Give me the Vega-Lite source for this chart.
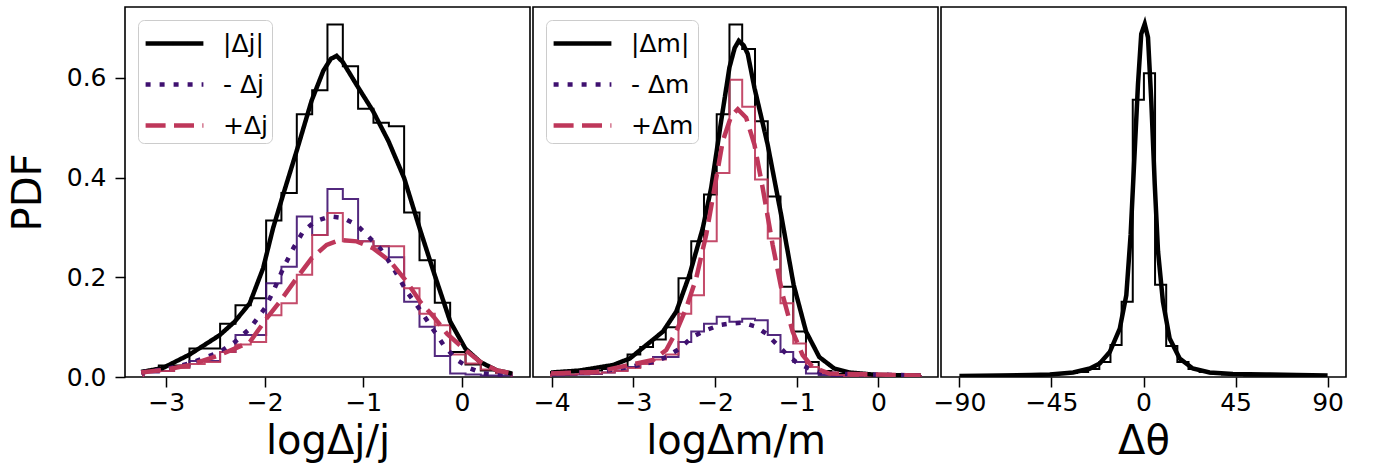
{
  "$schema": "https://vega.github.io/schema/vega-lite/v6.json",
  "background": "white",
  "padding": {"left": 7, "top": 6, "right": 5, "bottom": 5},
  "spacing": 3,
  "bounds": "flush",
  "datasets": {
    "h1": [
      {"s":"a","i":0,"x":-3.231,"y":0},{"s":"a","i":1,"x":-3.231,"y":0.013},{"s":"a","i":2,"x":-3.075,"y":0.023},{"s":"a","i":3,"x":-2.920,"y":0.023},{"s":"a","i":4,"x":-2.764,"y":0.057},{"s":"a","i":5,"x":-2.609,"y":0.057},{"s":"a","i":6,"x":-2.453,"y":0.107},{"s":"a","i":7,"x":-2.297,"y":0.144},{"s":"a","i":8,"x":-2.142,"y":0.158},{"s":"a","i":9,"x":-1.986,"y":0.314},{"s":"a","i":10,"x":-1.831,"y":0.369},{"s":"a","i":11,"x":-1.675,"y":0.527},{"s":"a","i":12,"x":-1.519,"y":0.575},{"s":"a","i":13,"x":-1.364,"y":0.707},{"s":"a","i":14,"x":-1.208,"y":0.623},{"s":"a","i":15,"x":-1.053,"y":0.538},{"s":"a","i":16,"x":-0.897,"y":0.510},{"s":"a","i":17,"x":-0.741,"y":0.503},{"s":"a","i":18,"x":-0.586,"y":0.330},{"s":"a","i":19,"x":-0.430,"y":0.234},{"s":"a","i":20,"x":-0.275,"y":0.149},{"s":"a","i":21,"x":-0.119,"y":0.050},{"s":"a","i":22,"x":0.037,"y":0.025},{"s":"a","i":23,"x":0.192,"y":0.013},{"s":"a","i":24,"x":0.348,"y":0.008},{"s":"a","i":25,"x":0.504,"y":0},
      {"s":"n","i":0,"x":-3.231,"y":0},{"s":"n","i":1,"x":-3.231,"y":0.009},{"s":"n","i":2,"x":-3.075,"y":0.012},{"s":"n","i":3,"x":-2.920,"y":0.020},{"s":"n","i":4,"x":-2.764,"y":0.032},{"s":"n","i":5,"x":-2.609,"y":0.032},{"s":"n","i":6,"x":-2.453,"y":0.050},{"s":"n","i":7,"x":-2.297,"y":0.084},{"s":"n","i":8,"x":-2.142,"y":0.084},{"s":"n","i":9,"x":-1.986,"y":0.188},{"s":"n","i":10,"x":-1.831,"y":0.221},{"s":"n","i":11,"x":-1.675,"y":0.322},{"s":"n","i":12,"x":-1.519,"y":0.285},{"s":"n","i":13,"x":-1.364,"y":0.377},{"s":"n","i":14,"x":-1.208,"y":0.357},{"s":"n","i":15,"x":-1.053,"y":0.272},{"s":"n","i":16,"x":-0.897,"y":0.262},{"s":"n","i":17,"x":-0.741,"y":0.240},{"s":"n","i":18,"x":-0.586,"y":0.151},{"s":"n","i":19,"x":-0.430,"y":0.101},{"s":"n","i":20,"x":-0.275,"y":0.042},{"s":"n","i":21,"x":-0.119,"y":0.007},{"s":"n","i":22,"x":0.037,"y":0.005},{"s":"n","i":23,"x":0.192,"y":0.003},{"s":"n","i":24,"x":0.348,"y":0.003},{"s":"n","i":25,"x":0.504,"y":0},
      {"s":"p","i":0,"x":-3.231,"y":0},{"s":"p","i":1,"x":-3.231,"y":0.010},{"s":"p","i":2,"x":-3.075,"y":0.012},{"s":"p","i":3,"x":-2.920,"y":0.018},{"s":"p","i":4,"x":-2.764,"y":0.026},{"s":"p","i":5,"x":-2.609,"y":0.030},{"s":"p","i":6,"x":-2.453,"y":0.050},{"s":"p","i":7,"x":-2.297,"y":0.065},{"s":"p","i":8,"x":-2.142,"y":0.070},{"s":"p","i":9,"x":-1.986,"y":0.124},{"s":"p","i":10,"x":-1.831,"y":0.148},{"s":"p","i":11,"x":-1.675,"y":0.205},{"s":"p","i":12,"x":-1.519,"y":0.285},{"s":"p","i":13,"x":-1.364,"y":0.329},{"s":"p","i":14,"x":-1.208,"y":0.272},{"s":"p","i":15,"x":-1.053,"y":0.272},{"s":"p","i":16,"x":-0.897,"y":0.262},{"s":"p","i":17,"x":-0.741,"y":0.262},{"s":"p","i":18,"x":-0.586,"y":0.178},{"s":"p","i":19,"x":-0.430,"y":0.127},{"s":"p","i":20,"x":-0.275,"y":0.104},{"s":"p","i":21,"x":-0.119,"y":0.045},{"s":"p","i":22,"x":0.037,"y":0.027},{"s":"p","i":23,"x":0.192,"y":0.015},{"s":"p","i":24,"x":0.348,"y":0.008},{"s":"p","i":25,"x":0.504,"y":0}
    ],
    "k1": [
      {"s":"|Δj|","x":-3.254,"y":0.010},{"s":"|Δj|","x":-3.034,"y":0.018},{"s":"|Δj|","x":-2.763,"y":0.045},{"s":"|Δj|","x":-2.457,"y":0.084},{"s":"|Δj|","x":-2.305,"y":0.111},{"s":"|Δj|","x":-2.152,"y":0.148},{"s":"|Δj|","x":-2.017,"y":0.218},{"s":"|Δj|","x":-1.915,"y":0.299},{"s":"|Δj|","x":-1.813,"y":0.366},{"s":"|Δj|","x":-1.677,"y":0.453},{"s":"|Δj|","x":-1.525,"y":0.554},{"s":"|Δj|","x":-1.406,"y":0.614},{"s":"|Δj|","x":-1.33,"y":0.638},{"s":"|Δj|","x":-1.271,"y":0.644},{"s":"|Δj|","x":-1.21,"y":0.632},{"s":"|Δj|","x":-1.05,"y":0.580},{"s":"|Δj|","x":-0.904,"y":0.534},{"s":"|Δj|","x":-0.745,"y":0.473},{"s":"|Δj|","x":-0.586,"y":0.399},{"s":"|Δj|","x":-0.430,"y":0.299},{"s":"|Δj|","x":-0.277,"y":0.205},{"s":"|Δj|","x":-0.118,"y":0.111},{"s":"|Δj|","x":0.035,"y":0.057},{"s":"|Δj|","x":0.188,"y":0.030},{"s":"|Δj|","x":0.357,"y":0.013},{"s":"|Δj|","x":0.510,"y":0.007},
      {"s":"- Δj","x":-3.254,"y":0.009},{"s":"- Δj","x":-3.0,"y":0.016},{"s":"- Δj","x":-2.763,"y":0.027},{"s":"- Δj","x":-2.457,"y":0.050},{"s":"- Δj","x":-2.305,"y":0.070},{"s":"- Δj","x":-2.152,"y":0.097},{"s":"- Δj","x":-1.999,"y":0.138},{"s":"- Δj","x":-1.915,"y":0.171},{"s":"- Δj","x":-1.813,"y":0.218},{"s":"- Δj","x":-1.711,"y":0.258},{"s":"- Δj","x":-1.610,"y":0.292},{"s":"- Δj","x":-1.491,"y":0.312},{"s":"- Δj","x":-1.338,"y":0.322},{"s":"- Δj","x":-1.203,"y":0.319},{"s":"- Δj","x":-1.067,"y":0.305},{"s":"- Δj","x":-0.965,"y":0.285},{"s":"- Δj","x":-0.830,"y":0.258},{"s":"- Δj","x":-0.694,"y":0.218},{"s":"- Δj","x":-0.559,"y":0.171},{"s":"- Δj","x":-0.457,"y":0.144},{"s":"- Δj","x":-0.321,"y":0.104},{"s":"- Δj","x":-0.185,"y":0.064},{"s":"- Δj","x":-0.050,"y":0.034},{"s":"- Δj","x":0.086,"y":0.017},{"s":"- Δj","x":0.222,"y":0.007},{"s":"- Δj","x":0.510,"y":0.003},
      {"s":"+Δj","x":-3.254,"y":0.009},{"s":"+Δj","x":-3.0,"y":0.015},{"s":"+Δj","x":-2.763,"y":0.024},{"s":"+Δj","x":-2.457,"y":0.044},{"s":"+Δj","x":-2.305,"y":0.057},{"s":"+Δj","x":-2.152,"y":0.070},{"s":"+Δj","x":-1.983,"y":0.117},{"s":"+Δj","x":-1.847,"y":0.151},{"s":"+Δj","x":-1.677,"y":0.198},{"s":"+Δj","x":-1.525,"y":0.238},{"s":"+Δj","x":-1.372,"y":0.265},{"s":"+Δj","x":-1.237,"y":0.275},{"s":"+Δj","x":-1.067,"y":0.272},{"s":"+Δj","x":-0.898,"y":0.258},{"s":"+Δj","x":-0.728,"y":0.232},{"s":"+Δj","x":-0.559,"y":0.191},{"s":"+Δj","x":-0.423,"y":0.151},{"s":"+Δj","x":-0.287,"y":0.121},{"s":"+Δj","x":-0.152,"y":0.087},{"s":"+Δj","x":0.018,"y":0.057},{"s":"+Δj","x":0.188,"y":0.030},{"s":"+Δj","x":0.357,"y":0.013},{"s":"+Δj","x":0.510,"y":0.007}
    ],
    "h2": [
      {"s":"a","i":0,"x":-4.009,"y":0},{"s":"a","i":1,"x":-4.009,"y":0.010},{"s":"a","i":2,"x":-3.853,"y":0.009},{"s":"a","i":3,"x":-3.697,"y":0.011},{"s":"a","i":4,"x":-3.541,"y":0.013},{"s":"a","i":5,"x":-3.385,"y":0.016},{"s":"a","i":6,"x":-3.229,"y":0.020},{"s":"a","i":7,"x":-3.072,"y":0.045},{"s":"a","i":8,"x":-2.916,"y":0.060},{"s":"a","i":9,"x":-2.760,"y":0.075},{"s":"a","i":10,"x":-2.604,"y":0.100},{"s":"a","i":11,"x":-2.448,"y":0.198},{"s":"a","i":12,"x":-2.292,"y":0.272},{"s":"a","i":13,"x":-2.136,"y":0.366},{"s":"a","i":14,"x":-1.980,"y":0.527},{"s":"a","i":15,"x":-1.824,"y":0.707},{"s":"a","i":16,"x":-1.668,"y":0.658},{"s":"a","i":17,"x":-1.511,"y":0.513},{"s":"a","i":18,"x":-1.355,"y":0.362},{"s":"a","i":19,"x":-1.199,"y":0.181},{"s":"a","i":20,"x":-1.043,"y":0.091},{"s":"a","i":21,"x":-0.887,"y":0.030},{"s":"a","i":22,"x":-0.731,"y":0.012},{"s":"a","i":23,"x":-0.575,"y":0.006},{"s":"a","i":24,"x":-0.419,"y":0.004},{"s":"a","i":25,"x":-0.263,"y":0.003},{"s":"a","i":26,"x":-0.107,"y":0.003},{"s":"a","i":27,"x":0.050,"y":0.002},{"s":"a","i":28,"x":0.206,"y":0.002},{"s":"a","i":29,"x":0.362,"y":0.002},{"s":"a","i":30,"x":0.518,"y":0},
      {"s":"n","i":0,"x":-4.009,"y":0},{"s":"n","i":1,"x":-4.009,"y":0.003},{"s":"n","i":2,"x":-3.853,"y":0.004},{"s":"n","i":3,"x":-3.697,"y":0.005},{"s":"n","i":4,"x":-3.541,"y":0.006},{"s":"n","i":5,"x":-3.385,"y":0.009},{"s":"n","i":6,"x":-3.229,"y":0.013},{"s":"n","i":7,"x":-3.072,"y":0.020},{"s":"n","i":8,"x":-2.916,"y":0.030},{"s":"n","i":9,"x":-2.760,"y":0.040},{"s":"n","i":10,"x":-2.604,"y":0.040},{"s":"n","i":11,"x":-2.448,"y":0.070},{"s":"n","i":12,"x":-2.292,"y":0.091},{"s":"n","i":13,"x":-2.136,"y":0.107},{"s":"n","i":14,"x":-1.980,"y":0.121},{"s":"n","i":15,"x":-1.824,"y":0.111},{"s":"n","i":16,"x":-1.668,"y":0.117},{"s":"n","i":17,"x":-1.511,"y":0.114},{"s":"n","i":18,"x":-1.355,"y":0.084},{"s":"n","i":19,"x":-1.199,"y":0.050},{"s":"n","i":20,"x":-1.043,"y":0.030},{"s":"n","i":21,"x":-0.887,"y":0.007},{"s":"n","i":22,"x":-0.731,"y":0.004},{"s":"n","i":23,"x":-0.575,"y":0.002},{"s":"n","i":24,"x":-0.419,"y":0.002},{"s":"n","i":25,"x":-0.263,"y":0.002},{"s":"n","i":26,"x":-0.107,"y":0.002},{"s":"n","i":27,"x":0.050,"y":0.002},{"s":"n","i":28,"x":0.206,"y":0.002},{"s":"n","i":29,"x":0.362,"y":0.002},{"s":"n","i":30,"x":0.518,"y":0},
      {"s":"p","i":0,"x":-4.009,"y":0},{"s":"p","i":1,"x":-4.009,"y":0.005},{"s":"p","i":2,"x":-3.853,"y":0.005},{"s":"p","i":3,"x":-3.697,"y":0.006},{"s":"p","i":4,"x":-3.541,"y":0.007},{"s":"p","i":5,"x":-3.385,"y":0.009},{"s":"p","i":6,"x":-3.229,"y":0.012},{"s":"p","i":7,"x":-3.072,"y":0.018},{"s":"p","i":8,"x":-2.916,"y":0.026},{"s":"p","i":9,"x":-2.760,"y":0.035},{"s":"p","i":10,"x":-2.604,"y":0.045},{"s":"p","i":11,"x":-2.448,"y":0.127},{"s":"p","i":12,"x":-2.292,"y":0.164},{"s":"p","i":13,"x":-2.136,"y":0.272},{"s":"p","i":14,"x":-1.980,"y":0.409},{"s":"p","i":15,"x":-1.824,"y":0.596},{"s":"p","i":16,"x":-1.668,"y":0.542},{"s":"p","i":17,"x":-1.511,"y":0.396},{"s":"p","i":18,"x":-1.355,"y":0.278},{"s":"p","i":19,"x":-1.199,"y":0.148},{"s":"p","i":20,"x":-1.043,"y":0.067},{"s":"p","i":21,"x":-0.887,"y":0.020},{"s":"p","i":22,"x":-0.731,"y":0.008},{"s":"p","i":23,"x":-0.575,"y":0.004},{"s":"p","i":24,"x":-0.419,"y":0.002},{"s":"p","i":25,"x":-0.263,"y":0.002},{"s":"p","i":26,"x":-0.107,"y":0.002},{"s":"p","i":27,"x":0.050,"y":0.002},{"s":"p","i":28,"x":0.206,"y":0.002},{"s":"p","i":29,"x":0.362,"y":0.002},{"s":"p","i":30,"x":0.518,"y":0}
    ],
    "k2": [
      {"s":"|Δm|","x":-4.009,"y":0.009},{"s":"|Δm|","x":-3.658,"y":0.013},{"s":"|Δm|","x":-3.250,"y":0.024},{"s":"|Δm|","x":-3.046,"y":0.037},{"s":"|Δm|","x":-2.842,"y":0.064},{"s":"|Δm|","x":-2.639,"y":0.091},{"s":"|Δm|","x":-2.476,"y":0.131},{"s":"|Δm|","x":-2.313,"y":0.205},{"s":"|Δm|","x":-2.150,"y":0.299},{"s":"|Δm|","x":-2.048,"y":0.379},{"s":"|Δm|","x":-1.926,"y":0.513},{"s":"|Δm|","x":-1.824,"y":0.621},{"s":"|Δm|","x":-1.76,"y":0.660},{"s":"|Δm|","x":-1.710,"y":0.674},{"s":"|Δm|","x":-1.65,"y":0.665},{"s":"|Δm|","x":-1.600,"y":0.648},{"s":"|Δm|","x":-1.518,"y":0.580},{"s":"|Δm|","x":-1.356,"y":0.466},{"s":"|Δm|","x":-1.192,"y":0.326},{"s":"|Δm|","x":-1.038,"y":0.185},{"s":"|Δm|","x":-0.886,"y":0.091},{"s":"|Δm|","x":-0.724,"y":0.040},{"s":"|Δm|","x":-0.540,"y":0.017},{"s":"|Δm|","x":-0.357,"y":0.009},{"s":"|Δm|","x":0.0,"y":0.004},{"s":"|Δm|","x":0.519,"y":0.003},
      {"s":"- Δm","x":-4.009,"y":0.007},{"s":"- Δm","x":-3.454,"y":0.010},{"s":"- Δm","x":-3.046,"y":0.020},{"s":"- Δm","x":-2.761,"y":0.030},{"s":"- Δm","x":-2.598,"y":0.040},{"s":"- Δm","x":-2.435,"y":0.057},{"s":"- Δm","x":-2.273,"y":0.081},{"s":"- Δm","x":-2.109,"y":0.094},{"s":"- Δm","x":-1.946,"y":0.104},{"s":"- Δm","x":-1.824,"y":0.107},{"s":"- Δm","x":-1.661,"y":0.109},{"s":"- Δm","x":-1.498,"y":0.101},{"s":"- Δm","x":-1.375,"y":0.087},{"s":"- Δm","x":-1.253,"y":0.067},{"s":"- Δm","x":-1.131,"y":0.047},{"s":"- Δm","x":-1.009,"y":0.030},{"s":"- Δm","x":-0.846,"y":0.017},{"s":"- Δm","x":-0.683,"y":0.007},{"s":"- Δm","x":0.519,"y":0.003},
      {"s":"+Δm","x":-4.009,"y":0.007},{"s":"+Δm","x":-3.454,"y":0.010},{"s":"+Δm","x":-3.046,"y":0.024},{"s":"+Δm","x":-2.761,"y":0.034},{"s":"+Δm","x":-2.598,"y":0.054},{"s":"+Δm","x":-2.476,"y":0.091},{"s":"+Δm","x":-2.354,"y":0.138},{"s":"+Δm","x":-2.231,"y":0.198},{"s":"+Δm","x":-2.109,"y":0.285},{"s":"+Δm","x":-2.007,"y":0.379},{"s":"+Δm","x":-1.906,"y":0.473},{"s":"+Δm","x":-1.803,"y":0.523},{"s":"+Δm","x":-1.722,"y":0.537},{"s":"+Δm","x":-1.620,"y":0.520},{"s":"+Δm","x":-1.518,"y":0.466},{"s":"+Δm","x":-1.417,"y":0.379},{"s":"+Δm","x":-1.295,"y":0.265},{"s":"+Δm","x":-1.172,"y":0.164},{"s":"+Δm","x":-1.050,"y":0.091},{"s":"+Δm","x":-0.928,"y":0.044},{"s":"+Δm","x":-0.806,"y":0.020},{"s":"+Δm","x":-0.601,"y":0.007},{"s":"+Δm","x":0.519,"y":0.003}
    ],
    "h3": [
      {"i":0,"x":-87.0,"y":0},{"i":1,"x":-87.0,"y":0.002},{"i":2,"x":-81.55,"y":0.002},{"i":3,"x":-76.1,"y":0.002},{"i":4,"x":-70.65,"y":0.003},{"i":5,"x":-65.2,"y":0.003},{"i":6,"x":-59.75,"y":0.003},{"i":7,"x":-54.3,"y":0.004},{"i":8,"x":-48.85,"y":0.005},{"i":9,"x":-43.4,"y":0.006},{"i":10,"x":-37.95,"y":0.008},{"i":11,"x":-32.5,"y":0.010},{"i":12,"x":-27.05,"y":0.016},{"i":13,"x":-21.6,"y":0.030},{"i":14,"x":-16.15,"y":0.064},{"i":15,"x":-10.7,"y":0.151},{"i":16,"x":-5.25,"y":0.556},{"i":17,"x":0.2,"y":0.609},{"i":18,"x":5.65,"y":0.185},{"i":19,"x":11.1,"y":0.062},{"i":20,"x":16.55,"y":0.030},{"i":21,"x":22.0,"y":0.016},{"i":22,"x":27.45,"y":0.010},{"i":23,"x":32.9,"y":0.007},{"i":24,"x":38.35,"y":0.005},{"i":25,"x":43.8,"y":0.004},{"i":26,"x":49.25,"y":0.003},{"i":27,"x":54.7,"y":0.003},{"i":28,"x":60.15,"y":0.003},{"i":29,"x":65.6,"y":0.002},{"i":30,"x":71.05,"y":0.002},{"i":31,"x":76.5,"y":0.002},{"i":32,"x":81.95,"y":0.002},{"i":33,"x":87.4,"y":0}
    ],
    "k3": [
      {"x":-90,"y":0.002},{"x":-70.2,"y":0.003},{"x":-55,"y":0.004},{"x":-45.8,"y":0.005},{"x":-40,"y":0.007},{"x":-34.4,"y":0.009},{"x":-26.2,"y":0.017},{"x":-21.4,"y":0.027},{"x":-16.5,"y":0.050},{"x":-11.6,"y":0.097},{"x":-8.4,"y":0.164},{"x":-6.3,"y":0.285},{"x":-4.3,"y":0.453},{"x":-2.7,"y":0.587},{"x":-1.1,"y":0.688},{"x":0.6,"y":0.708},{"x":2.2,"y":0.681},{"x":3.8,"y":0.554},{"x":5.5,"y":0.386},{"x":7.1,"y":0.252},{"x":9.5,"y":0.151},{"x":12.8,"y":0.077},{"x":17.7,"y":0.037},{"x":24.1,"y":0.017},{"x":32.3,"y":0.009},{"x":43.7,"y":0.006},{"x":59.9,"y":0.005},{"x":75,"y":0.004},{"x":90,"y":0.003}
    ]
  },
  "hconcat": [
    {
      "width": 405, "height": 370,
      "encoding": {
        "x": {"field": "x", "type": "quantitative", "scale": {"domain": [-3.418, 0.691], "nice": false, "zero": false}, "axis": {"title": "logΔj/j", "values": [-3, -2, -1, 0]}},
        "y": {"field": "y", "type": "quantitative", "scale": {"domain": [0, 0.742], "nice": false, "zero": false}, "axis": {"title": "PDF", "values": [0, 0.2, 0.4, 0.6], "format": ".1f", "titlePadding": 18, "labelPadding": 9}}
      },
      "layer": [
        {"data": {"name": "h1"}, "transform": [{"filter": "datum.s == 'a'"}], "mark": {"type": "line", "interpolate": "step-after", "color": "black", "strokeWidth": 2, "clip": true}, "encoding": {"order": {"field": "i", "type": "quantitative"}}},
        {"data": {"name": "h1"}, "transform": [{"filter": "datum.s == 'n'"}], "mark": {"type": "line", "interpolate": "step-after", "color": "#3f1170", "strokeWidth": 2, "opacity": 0.9, "clip": true}, "encoding": {"order": {"field": "i", "type": "quantitative"}}},
        {"data": {"name": "h1"}, "transform": [{"filter": "datum.s == 'p'"}], "mark": {"type": "line", "interpolate": "step-after", "color": "#be375a", "strokeWidth": 2, "opacity": 0.9, "clip": true}, "encoding": {"order": {"field": "i", "type": "quantitative"}}},
        {"data": {"name": "k1"}, "mark": {"type": "line", "strokeWidth": 4.5, "clip": true},
         "encoding": {
           "color": {"field": "s", "type": "nominal", "scale": {"domain": ["|Δj|", "- Δj", "+Δj"], "range": ["black", "#3f1170", "#be375a"]}, "legend": {"title": null}},
           "strokeDash": {"field": "s", "type": "nominal", "scale": {"domain": ["|Δj|", "- Δj", "+Δj"], "range": [[1, 0], [5, 9], [20, 8.4]]}, "legend": {"title": null}}
         }}
      ]
    },
    {
      "width": 405, "height": 370,
      "encoding": {
        "x": {"field": "x", "type": "quantitative", "scale": {"domain": [-4.23, 0.73], "nice": false, "zero": false}, "axis": {"title": "logΔm/m", "values": [-4, -3, -2, -1, 0]}},
        "y": {"field": "y", "type": "quantitative", "scale": {"domain": [0, 0.742], "nice": false, "zero": false}, "axis": null}
      },
      "layer": [
        {"data": {"name": "h2"}, "transform": [{"filter": "datum.s == 'a'"}], "mark": {"type": "line", "interpolate": "step-after", "color": "black", "strokeWidth": 2, "clip": true}, "encoding": {"order": {"field": "i", "type": "quantitative"}}},
        {"data": {"name": "h2"}, "transform": [{"filter": "datum.s == 'n'"}], "mark": {"type": "line", "interpolate": "step-after", "color": "#3f1170", "strokeWidth": 2, "opacity": 0.9, "clip": true}, "encoding": {"order": {"field": "i", "type": "quantitative"}}},
        {"data": {"name": "h2"}, "transform": [{"filter": "datum.s == 'p'"}], "mark": {"type": "line", "interpolate": "step-after", "color": "#be375a", "strokeWidth": 2, "opacity": 0.9, "clip": true}, "encoding": {"order": {"field": "i", "type": "quantitative"}}},
        {"data": {"name": "k2"}, "mark": {"type": "line", "strokeWidth": 4.5, "clip": true},
         "encoding": {
           "color": {"field": "s", "type": "nominal", "scale": {"domain": ["|Δm|", "- Δm", "+Δm"], "range": ["black", "#3f1170", "#be375a"]}, "legend": {"title": null}},
           "strokeDash": {"field": "s", "type": "nominal", "scale": {"domain": ["|Δm|", "- Δm", "+Δm"], "range": [[1, 0], [5, 9], [20, 8.4]]}, "legend": {"title": null}}
         }}
      ]
    },
    {
      "width": 405, "height": 370,
      "encoding": {
        "x": {"field": "x", "type": "quantitative", "scale": {"domain": [-99, 99], "nice": false, "zero": false}, "axis": {"title": "Δθ", "values": [-90, -45, 0, 45, 90]}},
        "y": {"field": "y", "type": "quantitative", "scale": {"domain": [0, 0.742], "nice": false, "zero": false}, "axis": null}
      },
      "layer": [
        {"data": {"name": "h3"}, "mark": {"type": "line", "interpolate": "step-after", "color": "black", "strokeWidth": 2, "clip": true}, "encoding": {"order": {"field": "i", "type": "quantitative"}}},
        {"data": {"name": "k3"}, "mark": {"type": "line", "color": "black", "strokeWidth": 4.5, "clip": true}, "encoding": {}}
      ]
    }
  ],
  "resolve": {"scale": {"x": "independent", "y": "independent", "color": "independent", "strokeDash": "independent"}, "legend": {"color": "independent", "strokeDash": "independent"}},
  "config": {
    "view": {"stroke": "black", "strokeWidth": 1.6},
    "axis": {"labelFont": "DejaVu Sans", "titleFont": "DejaVu Sans", "labelFontSize": 25, "titleFontSize": 40, "titleFontWeight": "normal", "labelColor": "black", "titleColor": "black", "tickColor": "black", "tickWidth": 1.5, "tickSize": 10, "domain": false, "grid": false, "labelPadding": 3, "titlePadding": 6},
    "legend": {"orient": "top-left", "offset": 13, "symbolType": "M-1.7,0L1.7,0", "symbolSize": 1156, "symbolStrokeWidth": 4.5, "symbolOffset": 13, "labelFont": "DejaVu Sans", "labelFontSize": 25, "labelColor": "black", "labelOffset": 29, "rowPadding": 8, "padding": 4, "cornerRadius": 6, "strokeColor": "#cccccc", "fillColor": "white", "labelLimit": 300}
  }
}
